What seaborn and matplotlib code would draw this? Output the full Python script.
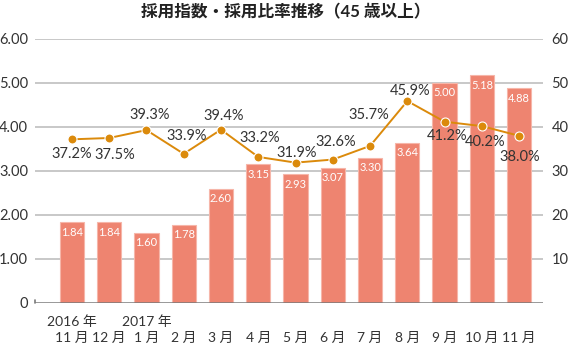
import matplotlib
matplotlib.use("Agg")
import matplotlib.pyplot as plt
import seaborn as sns
import pandas as pd
import numpy as np

sns.set_theme(style="white")
plt.rcParams['font.family'] = ['Lato', 'Noto Sans CJK JP', 'DejaVu Sans']

categories = ["11 月", "12 月", "1 月", "2 月", "3 月", "4 月", "5 月",
              "6 月", "7 月", "8 月", "9 月", "10 月", "11 月"]
year_labels = ["2016 年", "", "2017 年", "", "", "", "", "", "", "", "", "", ""]
index_values = [1.84, 1.84, 1.60, 1.78, 2.60, 3.15, 2.93, 3.07, 3.30, 3.64, 5.00, 5.18, 4.88]
ratio_values = [37.2, 37.5, 39.3, 33.9, 39.4, 33.2, 31.9, 32.6, 35.7, 45.9, 41.2, 40.2, 38.0]
ratio_label_offsets = [(0, -15), (6, -17), (3, 15), (3, 18), (3, 14), (1, 19), (1, 10),
                       (3, 18), (-1, 31), (3, 10), (3, -14), (3, -16), (1, -21)]

bar_color = "#EE8470"
line_color = "#DB8A0B"
text_color = "#333333"

df = pd.DataFrame({"cat": [str(i) for i in range(len(categories))], "index": index_values})

fig = plt.figure(figsize=(5.71, 3.45), dpi=100)
ax = fig.add_axes([35/571, 42/345, (543-35)/571, (303-39)/345])

sns.barplot(data=df, x="cat", y="index", ax=ax, color=bar_color, width=0.65,
            edgecolor="#F6B6A9", linewidth=0.8, saturation=1)

ax.set_ylim(0, 6)
ax.set_xlim(-0.99, 12.64)
ax.set_yticks([0, 1, 2, 3, 4, 5, 6])
ax.set_yticklabels(["0", "1.00", "2.00", "3.00", "4.00", "5.00", "6.00"], fontsize=10.5, color=text_color)
ax.set_xticks(range(len(categories)))
ax.set_xticklabels(categories, fontsize=10, color=text_color)
ax.tick_params(axis='both', length=0, pad=5)
ax.tick_params(axis='x', pad=21)
ax.set_xlabel("")
ax.set_ylabel("")
for s in ax.spines.values():
    s.set_visible(False)
for yv in [1, 2, 3, 4, 5, 6]:
    ax.axhline(yv, color="#C4C4C4", lw=1.3, zorder=0)
ax.axhline(0, color="#7A7A7A", lw=1.8, zorder=3)
ax.plot([-0.99, -0.99], [0, 0.07], color="#7A7A7A", lw=1.2, zorder=3, clip_on=False)

for i, yl in enumerate(year_labels):
    if yl:
        ax.annotate(yl, (i, 0), xycoords=("data", "axes fraction"), xytext=(0, -19),
                    textcoords="offset pixels", ha="center", va="center",
                    fontsize=10, color=text_color, annotation_clip=False)

for i, v in enumerate(index_values):
    ax.annotate(f"{v:.2f}", (i, v), xytext=(0, -10), textcoords="offset pixels",
                ha="center", va="center", color="white", fontsize=8, zorder=5)

ax2 = ax.twinx()
ax2.plot(range(len(ratio_values)), ratio_values, color=line_color, lw=1.4,
         marker="o", markersize=6.5, markerfacecolor=line_color,
         markeredgecolor="white", markeredgewidth=0.8, zorder=4)
ax2.set_ylim(0, 60)
ax2.set_yticks([10, 20, 30, 40, 50, 60])
ax2.set_yticklabels(["10", "20", "30", "40", "50", "60"], fontsize=10.5, color=text_color)
ax2.tick_params(axis='y', length=0, pad=6)
for s in ax2.spines.values():
    s.set_visible(False)

for i, (v, off) in enumerate(zip(ratio_values, ratio_label_offsets)):
    ax2.annotate(f"{v:.1f}%", (i, v), xytext=off, textcoords="offset pixels",
                 ha="center", va="center", color=text_color, fontsize=10.5, zorder=6)

fig.text(0.5, 1 - 12/345, "採用指数・採用比率推移（45 歳以上）", ha="center", va="center",
         fontsize=12, fontweight="bold", color="#222222")

fig.savefig("out.png", dpi=100)
